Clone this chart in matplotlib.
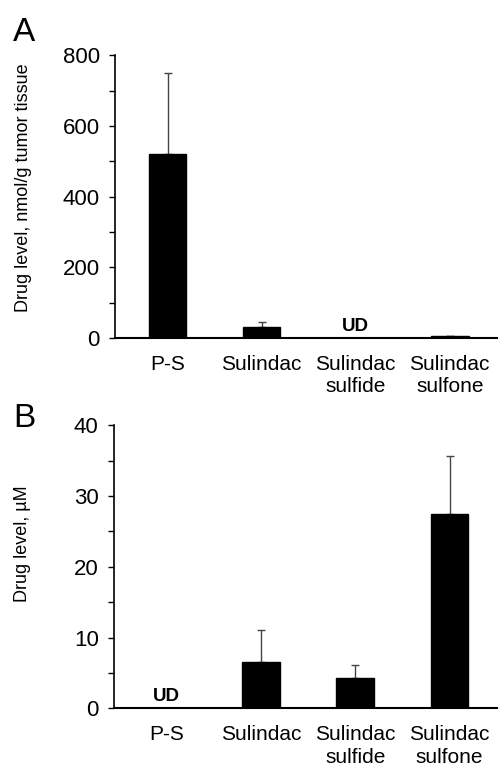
import matplotlib
matplotlib.use("Agg")
import matplotlib.pyplot as plt
from matplotlib.ticker import MultipleLocator

plt.rcParams['font.family'] = ['Liberation Sans', 'DejaVu Sans']

categories = ["P-S", "Sulindac", "Sulindac\nsulfide", "Sulindac\nsulfone"]

# Panel A: nmol/g tumor tissue (None = UD)
a_values = [520, 31, None, 5]
a_errors = [230, 14, None, 2]

# Panel B: uM in plasma (None = UD)
b_values = [None, 6.6, 4.3, 27.4]
b_errors = [None, 4.5, 1.8, 8.2]

fig = plt.figure(figsize=(5.01, 7.66), dpi=100)
axA = fig.add_axes([0.2295, 0.5587, 0.762, 0.3693])
axB = fig.add_axes([0.2275, 0.0753, 0.764, 0.3695])


def draw(ax, values, errors, ymax, major, minor, ylabel, ud_y):
    x = list(range(len(categories)))
    for i, (v, e) in enumerate(zip(values, errors)):
        if v is None:
            ax.text(i, ud_y, "UD", ha="center", va="bottom", fontsize=13.5,
                    fontweight="bold")
            continue
        ax.bar(i, v, width=0.40, color="black", edgecolor="black", zorder=2)
        ax.errorbar(i, v, yerr=[[0], [e]], fmt="none", ecolor="#444444",
                    elinewidth=1.0, capsize=3, capthick=1.0, zorder=1)
    ax.set_xlim(-0.56, 3.5)
    ax.set_ylim(0, ymax)
    ax.set_xticks(x)
    ax.set_xticklabels(categories, fontsize=15, linespacing=1.25)
    ax.tick_params(axis="x", length=0, pad=12)
    ax.yaxis.set_major_locator(MultipleLocator(major))
    ax.yaxis.set_minor_locator(MultipleLocator(minor))
    ax.tick_params(axis="y", which="both", direction="out", length=4,
                   width=1, labelsize=16, pad=7)
    for s in ["top", "right"]:
        ax.spines[s].set_visible(False)
    ax.spines["left"].set_linewidth(1.2)
    ax.spines["bottom"].set_linewidth(1.5)
    ax.set_ylabel(ylabel, fontsize=13)


draw(axA, a_values, a_errors, 800, 200, 100,
     "Drug level, nmol/g tumor tissue", 8)
draw(axB, b_values, b_errors, 40, 10, 5, "Drug level, \u00b5M", 0.4)

axA.yaxis.set_label_coords(-0.217, 0.53)
axB.yaxis.set_label_coords(-0.217, 0.583)

fig.text(0.026, 0.958, "A", fontsize=24, ha="left", va="center")
fig.text(0.026, 0.454, "B", fontsize=24, ha="left", va="center")

fig.savefig("out.png", dpi=100)
